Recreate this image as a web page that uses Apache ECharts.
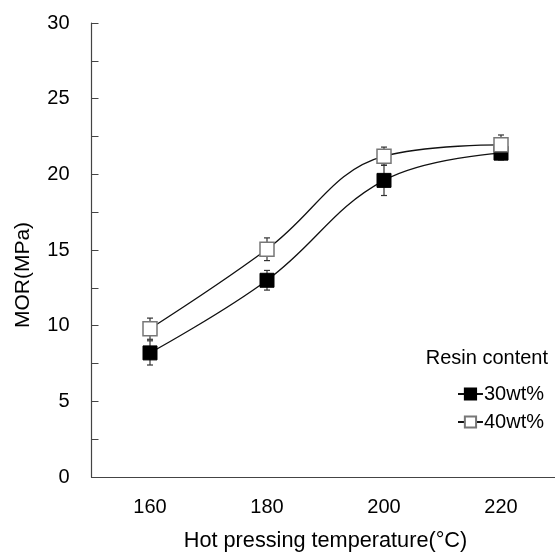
<!DOCTYPE html>
<html>
<head>
<meta charset="utf-8">
<script src="https://cdn.jsdelivr.net/npm/echarts@6/dist/echarts.min.js"></script>
<style>
  html, body { margin: 0; padding: 0; background: #fff; }
  #chart { width: 555px; height: 552px; }
</style>
</head>
<body>
<div id="chart"></div>
<script>
// temperatures on the x axis
const temps = ['160', '180', '200', '220'];
// MOR values and error bar half-heights, per resin content
const mor30 = [8.2, 13.0, 19.6, 21.4];
const err30 = [0.8, 0.65, 1.0, 0.45];
const mor40 = [9.8, 15.05, 21.2, 21.95];
const err40 = [0.7, 0.75, 0.6, 0.65];

const font = 'Liberation Sans, Arial, sans-serif';

// error bars as [index, low, high]
const bars = (vals, errs) => vals.map((v, i) => [i, v - errs[i], v + errs[i]]);

const errorSeries = (name, vals, errs) => ({
    type: 'custom',
    name: name,
    z: 1,
    silent: true,
    renderItem: (params, api) => {
        const lo = api.coord([api.value(0), api.value(1)]);
        const hi = api.coord([api.value(0), api.value(2)]);
        const w = 3;
        const style = { stroke: '#333', lineWidth: 1.2 };
        return {
            type: 'group',
            children: [
                { type: 'line', shape: { x1: lo[0], y1: lo[1], x2: hi[0], y2: hi[1] }, style },
                { type: 'line', shape: { x1: lo[0] - w, y1: lo[1], x2: lo[0] + w, y2: lo[1] }, style },
                { type: 'line', shape: { x1: hi[0] - w, y1: hi[1], x2: hi[0] + w, y2: hi[1] }, style }
            ]
        };
    },
    encode: { x: 0, y: [1, 2] },
    data: bars(vals, errs)
});

const chart = echarts.init(document.getElementById('chart'));

chart.setOption({
    animation: false,
    textStyle: { fontFamily: font },
    grid: { left: 91.5, right: -4.5, top: 23, bottom: 75, outerBoundsMode: 'none' },
    title: {
        text: 'Resin content',
        right: 2,
        top: 343,
        textStyle: { fontSize: 20, fontWeight: 'normal', color: '#000', fontFamily: font }
    },
    legend: {
        orient: 'vertical',
        right: 6,
        top: 379,
        itemGap: 8,
        itemWidth: 25,
        itemHeight: 14,
        textStyle: { fontSize: 20, color: '#000', fontFamily: font, padding: [0, 0, 0, -4] },
        data: ['30wt%', '40wt%']
    },
    graphic: [{
        type: 'text',
        x: 23,
        y: 275,
        rotation: Math.PI / 2,
        style: {
            text: 'MOR(MPa)',
            fontSize: 21,
            fontFamily: font,
            fill: '#000',
            align: 'center',
            verticalAlign: 'middle'
        }
    }],
    xAxis: {
        type: 'category',
        data: temps,
        boundaryGap: true,
        name: 'Hot pressing temperature(°C)',
        nameLocation: 'middle',
        nameGap: 53,
        nameTextStyle: { fontSize: 21.7, color: '#000', fontFamily: font },
        axisLine: { lineStyle: { color: '#444', width: 1.2 } },
        axisTick: { inside: true, alignWithLabel: true, length: 5, lineStyle: { color: '#444' } },
        axisLabel: { fontSize: 20, color: '#000', margin: 20, fontFamily: font },
        splitLine: { show: false }
    },
    yAxis: {
        type: 'value',
        min: 0,
        max: 30,
        interval: 5,
        axisLine: { show: true, lineStyle: { color: '#444', width: 1.2 } },
        axisTick: { show: true, inside: true, length: 7, lineStyle: { color: '#444' } },
        minorTick: { show: true, splitNumber: 2, length: 7, lineStyle: { color: '#444' } },
        axisLabel: { fontSize: 20, color: '#000', margin: 22, fontFamily: font },
        splitLine: { show: false }
    },
    series: [
        errorSeries('err30', mor30, err30),
        errorSeries('err40', mor40, err40),
        {
            name: '30wt%',
            type: 'line',
            z: 3,
            data: mor30,
            smooth: 0.4,
            symbol: 'rect',
            symbolSize: 14,
            lineStyle: { color: '#111', width: 1.3 },
            itemStyle: { color: '#000', borderColor: '#000', borderWidth: 1 }
        },
        {
            name: '40wt%',
            type: 'line',
            z: 4,
            data: mor40,
            smooth: 0.4,
            symbol: 'rect',
            symbolSize: 14,
            lineStyle: { color: '#111', width: 1.3 },
            itemStyle: { color: '#fff', borderColor: '#777', borderWidth: 1.5 }
        }
    ]
});
</script>
</body>
</html>
